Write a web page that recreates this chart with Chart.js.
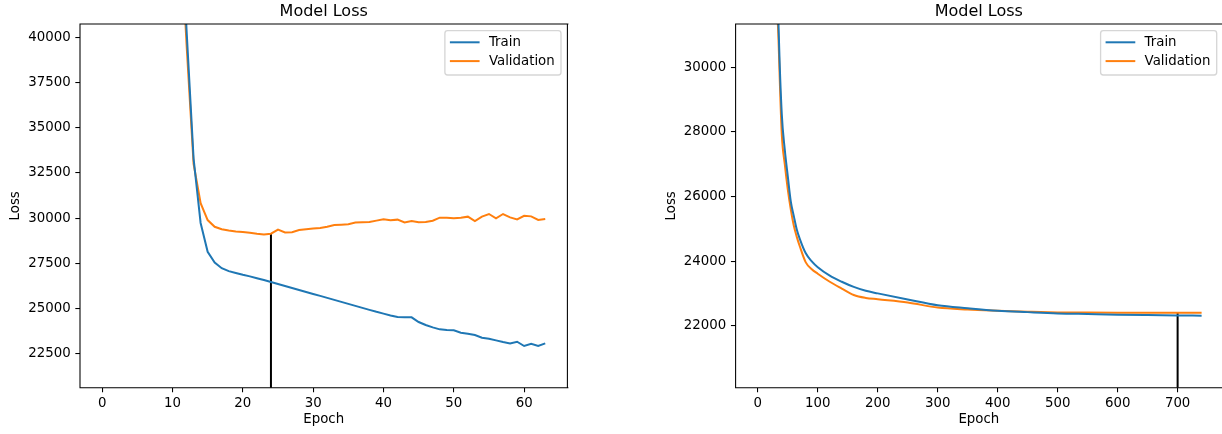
<!DOCTYPE html>
<html>
<head>
<meta charset="utf-8">
<title>Model Loss</title>
<script src="https://cdn.jsdelivr.net/npm/chart.js@4.4.0/dist/chart.umd.min.js"></script>
<style>
    html, body { margin: 0; padding: 0; background: #fff; overflow: hidden; }
    body { width: 1222px; height: 434px; position: relative; }
    canvas { position: absolute; top: 0; }
    #leftChart { left: 0; }
    #rightChart { left: 656px; }
</style>
</head>
<body>
<canvas id="leftChart" width="580" height="434"></canvas>
<canvas id="rightChart" width="566" height="434"></canvas>
<script>
// ===== DATA =====
const seriesLabels = ["Train", "Validation"];

// left run: one value per epoch (first epochs are far above the visible range)
const leftEpochs = [0, 1, 2, 3, 4, 5, 6, 7, 8, 9, 10, 11, 12, 13, 14, 15, 16, 17, 18, 19,
    20, 21, 22, 23, 24, 25, 26, 27, 28, 29, 30, 31, 32, 33, 34, 35, 36, 37, 38, 39,
    40, 41, 42, 43, 44, 45, 46, 47, 48, 49, 50, 51, 52, 53, 54, 55, 56, 57, 58, 59,
    60, 61, 62, 63];
const leftTrain = [412000, 398000, 371000, 330000, 276000, 214000, 155000, 108000, 78000, 62000,
    54000, 49000, 40400, 33300, 29740, 28150, 27550, 27240, 27080, 26980,
    26880, 26790, 26690, 26590, 26480, 26370, 26260, 26150, 26040, 25930,
    25820, 25710, 25600, 25490, 25380, 25270, 25160, 25050, 24940, 24830,
    24730, 24630, 24545, 24530, 24525, 24267, 24102, 23973, 23862, 23825,
    23807, 23678, 23623, 23549, 23402, 23346, 23254, 23162, 23088, 23180,
    22941, 23070, 22941, 23088];
const leftVal = [405000, 385000, 352000, 306000, 248000, 186000, 131000, 91000, 68000, 56000,
    50500, 47000, 39600, 33000, 30830, 29900, 29530, 29390, 29320, 29270,
    29240, 29200, 29150, 29110, 29150, 29370, 29220, 29230, 29350, 29390,
    29430, 29460, 29530, 29630, 29645, 29665, 29760, 29775, 29790, 29870,
    29945, 29885, 29925, 29770, 29850, 29775, 29795, 29865, 30035, 30035,
    29995, 30035, 30090, 29850, 30090, 30235, 29995, 30235, 30050, 29940,
    30140, 30105, 29905, 29960];
const leftXTicks = [0, 10, 20, 30, 40, 50, 60];
const leftYTicks = [22500, 25000, 27500, 30000, 32500, 35000, 37500, 40000];
const leftMarkEpoch = 24;

// right run: values read at selected epochs
const rightEpochs = [0, 10, 20, 30, 35, 40, 45, 50, 55, 60, 65, 70, 80, 90, 100, 120, 140, 160,
    180, 200, 250, 300, 350, 400, 450, 500, 550, 600, 650, 700, 740];
const rightTrain = [420000, 160000, 62000, 35200, 31040, 28550, 27450, 26630, 25850, 25400,
    24980, 24690, 24240, 23990, 23810, 23550, 23360, 23200, 23080, 23000,
    22810, 22630, 22540, 22464, 22420, 22381, 22360, 22340, 22328, 22319, 22309];
const rightVal = [400000, 150000, 58000, 34100, 30600, 27930, 27000, 26220, 25600, 25100,
    24750, 24460, 23960, 23750, 23610, 23360, 23150, 22950, 22860, 22820,
    22720, 22560, 22500, 22464, 22435, 22412, 22405, 22402, 22401, 22400, 22400];
const rightXTicks = [0, 100, 200, 300, 400, 500, 600, 700];
const rightYTicks = [22000, 24000, 26000, 28000, 30000];
const rightMarkEpoch = 700;

// ===== STYLE =====
const FONT = "'DejaVu Sans', 'Liberation Sans', sans-serif";
const tickFont = { family: FONT, size: 13.33 };
const TRAIN_COLOR = "#1f77b4";
const VAL_COLOR = "#ff7f0e";

// axes box like matplotlib (right spine is cut off in the second plot)
const framePlugin = {
    id: "frame",
    afterDatasetsDraw(chart, args, opts) {
        const a = chart.chartArea;
        const ctx = chart.ctx;
        ctx.save();
        ctx.strokeStyle = "#000";
        ctx.lineWidth = 1.07;
        ctx.beginPath();
        ctx.moveTo(a.right + 1, a.top);
        ctx.lineTo(a.left, a.top);
        ctx.lineTo(a.left, a.bottom);
        ctx.lineTo(a.right + 1, a.bottom);
        if (opts.rightSpine) {
            ctx.moveTo(a.right, a.top);
            ctx.lineTo(a.right, a.bottom);
        }
        ctx.stroke();
        ctx.restore();
    }
};

// legend box in the upper right corner of the plot
const legendPlugin = {
    id: "legendBox",
    afterDraw(chart, args, opts) {
        const ctx = chart.ctx;
        const a = chart.chartArea;
        const sets = chart.data.datasets.slice(0, 2);
        ctx.save();
        ctx.font = "13.33px " + FONT;
        const textW = Math.max(...sets.map(d => ctx.measureText(d.label).width));
        const w = 44 + textW + 6.3, h = 44.3;
        const x = opts.right - w, y = a.top + 6.7;
        ctx.beginPath();
        ctx.roundRect(x, y, w, h, 2.7);
        ctx.fillStyle = "rgba(255,255,255,0.8)";
        ctx.fill();
        ctx.strokeStyle = "rgba(204,204,204,0.8)";
        ctx.lineWidth = 1.33;
        ctx.stroke();
        sets.forEach((d, i) => {
            const ry = y + 11.6 + i * 18.8;
            ctx.strokeStyle = d.borderColor;
            ctx.lineWidth = 2;
            ctx.beginPath();
            ctx.moveTo(x + 5, ry);
            ctx.lineTo(x + 34.7, ry);
            ctx.stroke();
            ctx.fillStyle = "#000";
            ctx.textBaseline = "middle";
            ctx.textAlign = "left";
            ctx.fillText(d.label, x + 44, ry);
        });
        ctx.restore();
    }
};

function toPoints(xs, ys) {
    return xs.map((x, i) => ({ x: x, y: ys[i] }));
}

function makeChart(canvasId, epochs, train, val, xTicks, yTicks, xRange, yRange, markEpoch, box, smooth) {
    const markValue = val[epochs.indexOf(markEpoch)];
    return new Chart(document.getElementById(canvasId), {
        type: "line",
        data: {
            datasets: [
                {
                    label: seriesLabels[0],
                    data: toPoints(epochs, train),
                    borderColor: TRAIN_COLOR,
                    borderWidth: 2,
                    pointRadius: 0,
                    cubicInterpolationMode: smooth ? "monotone" : "default",
                },
                {
                    label: seriesLabels[1],
                    data: toPoints(epochs, val),
                    borderColor: VAL_COLOR,
                    borderWidth: 2,
                    pointRadius: 0,
                    cubicInterpolationMode: smooth ? "monotone" : "default",
                },
                {
                    label: "best",
                    data: [{ x: markEpoch, y: yRange[0] - 1000 }, { x: markEpoch, y: markValue }],
                    borderColor: "#000",
                    borderWidth: 2,
                    pointRadius: 0,
                },
            ],
        },
        options: {
            responsive: false,
            animation: false,
            devicePixelRatio: 1,
            layout: { autoPadding: false, padding: { left: 0, right: box.padRight, top: 0, bottom: 0 } },
            plugins: {
                legend: { display: false },
                tooltip: { enabled: false },
                frame: { rightSpine: box.rightSpine },
                legendBox: { right: box.legendRight },
                title: {
                    display: true,
                    text: "Model Loss",
                    fullSize: false,
                    color: "#000",
                    font: { family: FONT, size: 16, weight: "normal" },
                    padding: { top: 2, bottom: 2.8 },
                },
            },
            scales: {
                x: {
                    type: "linear",
                    bounds: "data",
                    min: xRange[0],
                    max: xRange[1],
                    afterBuildTicks: s => { s.ticks = xTicks.map(v => ({ value: v })); },
                    afterFit: s => { s.height = 46.3; },
                    grid: { drawOnChartArea: false, drawTicks: true, tickLength: 4.67, color: "#000", lineWidth: 1.07 },
                    border: { display: false },
                    ticks: { color: "#000", font: tickFont, padding: 3, maxRotation: 0, autoSkip: false, callback: v => String(v) },
                    title: { display: true, text: "Epoch", color: "#000", font: tickFont, padding: { top: 0, bottom: 6 } },
                },
                y: {
                    type: "linear",
                    bounds: "data",
                    min: yRange[0],
                    max: yRange[1],
                    afterBuildTicks: s => { s.ticks = yTicks.map(v => ({ value: v })); },
                    afterFit: s => { s.width = box.axisWidth; },
                    grid: { drawOnChartArea: false, drawTicks: true, tickLength: 4.67, color: "#000", lineWidth: 1.07 },
                    border: { display: false },
                    ticks: { color: "#000", font: tickFont, padding: 4.67, autoSkip: false, callback: v => String(v) },
                    title: { display: true, text: "Loss", color: "#000", font: tickFont, padding: { top: 7.3, bottom: 0 } },
                },
            },
        },
        plugins: [framePlugin, legendPlugin],
    });
}

// ===== DRAW =====
makeChart("leftChart", leftEpochs, leftTrain, leftVal, leftXTicks, leftYTicks,
    [-3.15, 66.15], [20638, 40735], leftMarkEpoch,
    { axisWidth: 80, padRight: 12.6, legendRight: 561, rightSpine: true }, false);
// the right plot box runs to the window edge; its x range is widened to match
makeChart("rightChart", rightEpochs, rightTrain, rightVal, rightXTicks, rightYTicks,
    [-37, 774], [20080, 31341], rightMarkEpoch,
    { axisWidth: 79.6, padRight: 0, legendRight: 560.7, rightSpine: false }, true);
</script>
</body>
</html>
